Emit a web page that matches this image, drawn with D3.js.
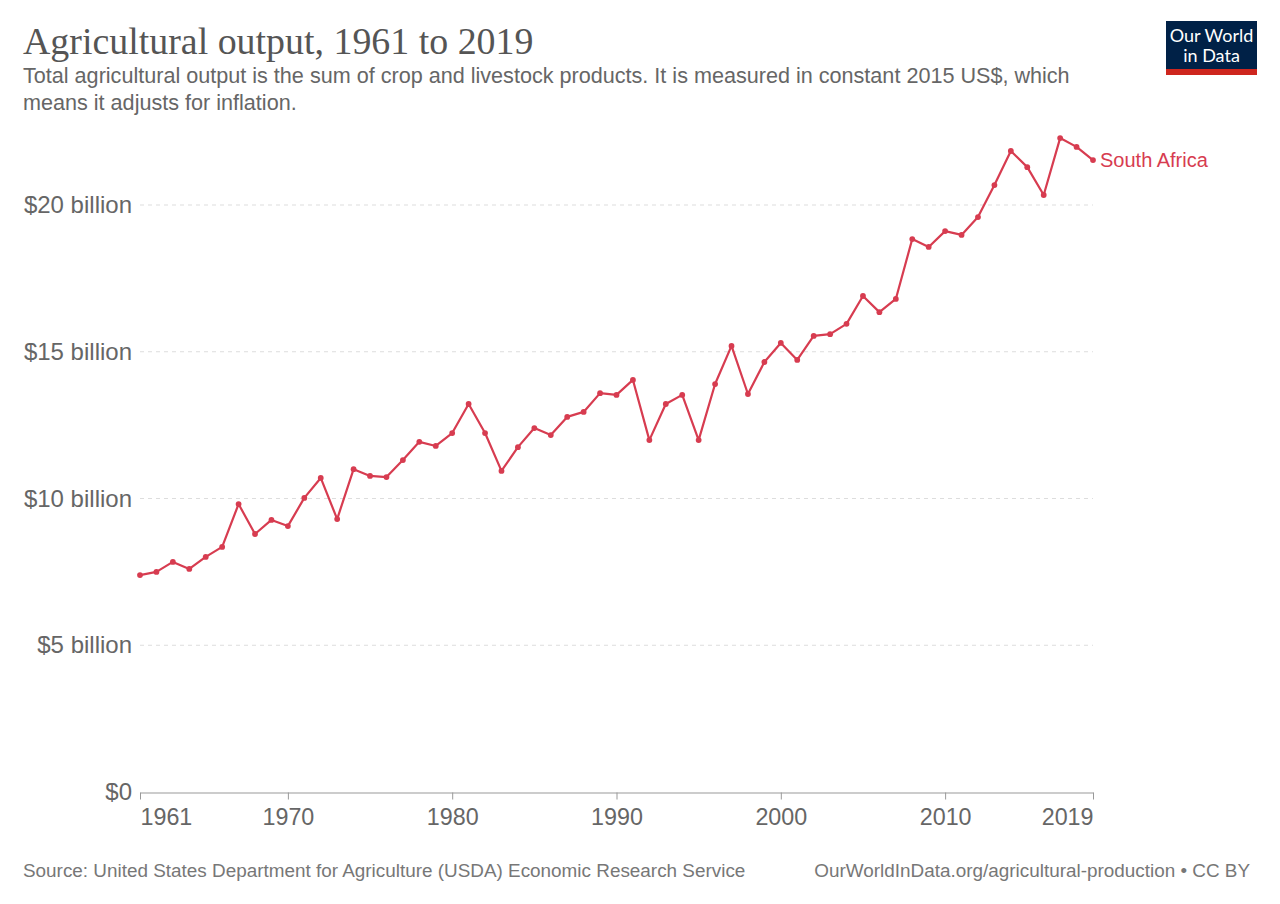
<!DOCTYPE html>
<html><head><meta charset="utf-8">
<script src="https://cdn.jsdelivr.net/npm/d3@7"></script>
<style>
body{margin:0;background:#fff;}
svg{display:block;}
</style></head>
<body>
<script>
const years = d3.range(1961, 2020);
const values = [7.39,7.50,7.84,7.60,8.01,8.35,9.81,8.79,9.27,9.06,
  10.02,10.70,9.30,11.00,10.77,10.73,11.31,11.93,11.79,12.23,
  13.22,12.23,10.94,11.75,12.40,12.16,12.78,12.95,13.59,13.53,
  14.04,11.99,13.22,13.53,11.99,13.90,15.20,13.56,14.65,15.30,
  14.72,15.54,15.60,15.95,16.90,16.35,16.80,18.84,18.57,19.11,
  18.98,19.59,20.68,21.84,21.29,20.34,22.28,21.98,21.53];
const yTicks = [0,5,10,15,20];
const yTickLabels = ["$0","$5 billion","$10 billion","$15 billion","$20 billion"];
const xTicks = [1961,1970,1980,1990,2000,2010,2019];
const seriesName = "South Africa";
const title = "Agricultural output, 1961 to 2019";
const subtitle = ["Total agricultural output is the sum of crop and livestock products. It is measured in constant 2015 US$, which",
                  "means it adjusts for inflation."];
const source = "Source: United States Department for Agriculture (USDA) Economic Research Service";
const credit = "OurWorldInData.org/agricultural-production • CC BY";

const W = 1280, H = 904;
const color = "#d73c50";
const sans = "'Liberation Sans', Arial, Helvetica, sans-serif";
const svg = d3.select("body").append("svg").attr("width", W).attr("height", H);

const x = d3.scaleLinear().domain([1961, 2019]).range([140, 1093]);
const y = d3.scaleLinear().domain([0, 20]).range([792, 205]);

// title
svg.append("text").attr("x", 23).attr("y", 54)
  .style("font-family", "'Liberation Serif', 'Times New Roman', serif")
  .style("font-size", "37.9px").style("fill", "#555").text(title);
svg.selectAll(".sub").data(subtitle).enter().append("text")
  .attr("x", 23).attr("y", (d, i) => 83 + i * 27)
  .style("font-family", sans).style("font-size", "21.6px").style("fill", "#666").text(d => d);

// logo
const logo = svg.append("g");
logo.append("rect").attr("x", 1166).attr("y", 21).attr("width", 91).attr("height", 54).attr("fill", "#002147");
logo.append("rect").attr("x", 1166).attr("y", 69).attr("width", 91).attr("height", 6).attr("fill", "#ce261e");
logo.append("text").attr("x", 1211.5).attr("y", 42).attr("text-anchor", "middle")
  .style("font-family", "Lato, sans-serif").style("font-size", "18px").style("fill", "#fff").text("Our World");
logo.append("text").attr("x", 1211.5).attr("y", 62).attr("text-anchor", "middle")
  .style("font-family", "Lato, sans-serif").style("font-size", "18px").style("fill", "#fff").text("in Data");

// y grid + labels
const yAxis = d3.axisLeft(y).tickValues(yTicks).tickSize(0).tickPadding(8)
  .tickFormat((d, i) => yTickLabels[i]);
const gy = svg.append("g").attr("transform", "translate(140,0)").call(yAxis);
gy.select(".domain").remove();
gy.selectAll("text").style("font-family", sans).style("font-size", "24px").style("fill", "#666");
svg.append("g").selectAll("line").data(yTicks.filter(d => d > 0)).enter().append("line")
  .attr("x1", 140).attr("x2", 1093).attr("y1", d => y(d)).attr("y2", d => y(d))
  .attr("stroke", "#ddd").attr("stroke-dasharray", "4,4").attr("stroke-width", 1);

// x axis
const xAxis = d3.axisBottom(x).tickValues(xTicks).tickFormat(d3.format("d")).tickSize(7).tickSizeOuter(0).tickPadding(9);
const gx = svg.append("g").attr("transform", "translate(0,792.5)").call(xAxis);
gx.select(".domain").attr("stroke", "#999");
gx.selectAll(".tick line").attr("stroke", "#999");
gx.selectAll("text").style("font-family", sans).style("font-size", "23.3px").style("fill", "#666")
  .attr("text-anchor", d => d === 1961 ? "start" : (d === 2019 ? "end" : "middle"));

// line
const data = years.map((yr, i) => ({yr, v: values[i]}));
svg.append("path").datum(data)
  .attr("fill", "none").attr("stroke", color).attr("stroke-width", 2.2)
  .attr("stroke-linejoin", "round")
  .attr("d", d3.line().x(d => x(d.yr)).y(d => y(d.v)));
svg.append("g").selectAll("circle").data(data).enter().append("circle")
  .attr("cx", d => x(d.yr)).attr("cy", d => y(d.v)).attr("r", 2.9).attr("fill", color);

// series label
const last = data[data.length - 1];
svg.append("text").attr("x", x(last.yr) + 7).attr("y", y(last.v)).attr("dy", "0.35em")
  .style("font-family", sans).style("font-size", "20px").style("fill", color).text(seriesName);

// footer
svg.append("text").attr("x", 23).attr("y", 877)
  .style("font-family", sans).style("font-size", "18.9px").style("fill", "#777").text(source);
svg.append("text").attr("x", 1250).attr("y", 877).attr("text-anchor", "end")
  .style("font-family", sans).style("font-size", "18.9px").style("fill", "#777").text(credit);
</script>
</body></html>
